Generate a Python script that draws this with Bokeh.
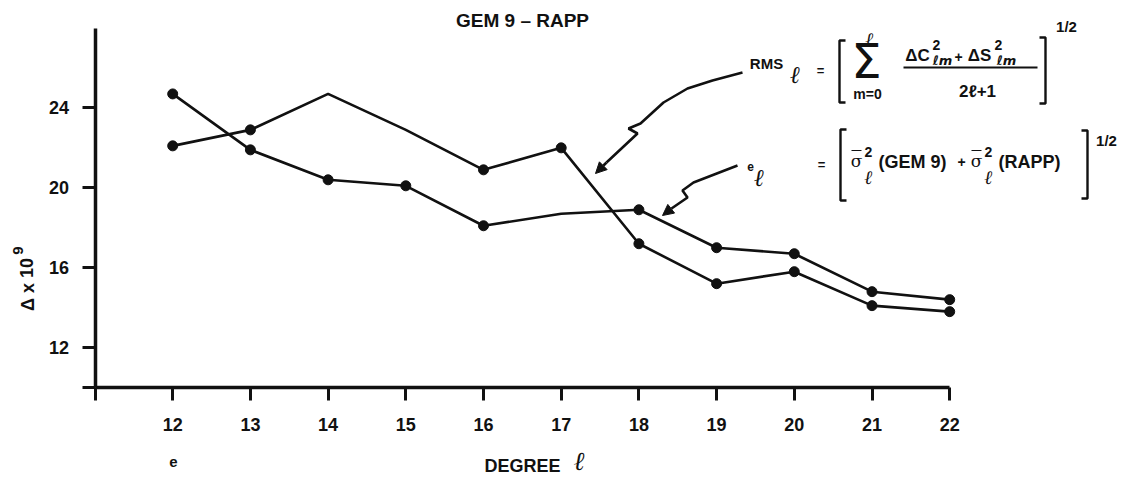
from bokeh.plotting import figure
from bokeh.models import Range1d, FixedTicker, Label, Arrow, NormalHead
from bokeh.embed import file_html
from bokeh.resources import INLINE

# ---------------- data ----------------
degree = [12, 13, 14, 15, 16, 17, 18, 19, 20, 21, 22]
rms = [22.1, 22.9, 24.7, 22.9, 20.9, 22.0, 17.2, 15.2, 15.8, 14.1, 13.8]
e_l = [24.7, 21.9, 20.4, 20.1, 18.1, 18.7, 18.9, 17.0, 16.7, 14.8, 14.4]
rms_dots = [1, 1, 0, 0, 1, 1, 1, 1, 1, 1, 1]
e_dots = [1, 1, 1, 1, 1, 0, 1, 1, 1, 1, 1]
x_ticks = [11, 12, 13, 14, 15, 16, 17, 18, 19, 20, 21, 22]
x_tick_labels = ["", "12", "13", "14", "15", "16", "17", "18", "19", "20", "21", "22"]
y_ticks = [10, 12, 16, 20, 24]
y_tick_labels = ["", "12", "16", "20", "24"]
title_text = "GEM 9 \u2013 RAPP"
x_label = "DEGREE"
y_label = "\u0394 x 10"

# ---------------- layout ----------------
W, H = 1130, 474
OFF = 0                      # page offset of the canvas
PX11, PPX = 94.5, 77.7       # page x of degree 11, px per degree
PY18, PPY = 227.25, 19.975   # page y of value 18, px per unit
X0 = 11 - (PX11 - OFF) / PPX
X1 = X0 + W / PPX
Y1 = 18 + (PY18 - OFF) / PPY
Y0 = Y1 - H / PPY

def dx(px):
    return X0 + (px - OFF) / PPX

def dy(py):
    return Y1 - (py - OFF) / PPY

FONT = "Liberation Sans"
INK = "#111111"

p = figure(width=W, height=H, x_range=Range1d(X0, X1), y_range=Range1d(Y0, Y1),
           output_backend="svg", toolbar_location=None, title=None, min_border=0)
p.outline_line_color = None
p.xgrid.visible = False
p.ygrid.visible = False
p.background_fill_color = "white"

for ax in (p.xaxis[0], p.yaxis[0]):
    ax.axis_line_width = 3.5
    ax.axis_line_color = INK
    ax.major_tick_line_width = 3
    ax.major_tick_line_color = INK
    ax.major_tick_in = 0
    ax.major_tick_out = 13
    ax.minor_tick_line_color = None
    ax.major_label_text_font = FONT
    ax.major_label_text_font_style = "bold"
    ax.major_label_text_font_size = "18px"
    ax.major_label_text_color = INK

p.xaxis.fixed_location = 10
p.xaxis.bounds = (11, 22)
p.xaxis.ticker = FixedTicker(ticks=x_ticks)
p.xaxis.major_label_overrides = dict(zip(x_ticks, x_tick_labels))
p.xaxis.major_label_standoff = 17

p.yaxis.fixed_location = 11
p.yaxis.bounds = (10, 28)
p.yaxis.ticker = FixedTicker(ticks=y_ticks)
p.yaxis.major_label_overrides = dict(zip(y_ticks, y_tick_labels))
p.yaxis.major_label_standoff = 13

# ---------------- series ----------------
for ys, dots in ((rms, rms_dots), (e_l, e_dots)):
    p.line(degree, ys, line_width=2.6, line_color=INK)
    p.scatter([d for d, k in zip(degree, dots) if k], [v for v, k in zip(ys, dots) if k],
              marker="circle", size=10, fill_color=INK, line_color=INK)

# ---------------- texts ----------------
def lab(px, py, text, size, style="bold", font=FONT, angle=0, align="center", base="middle"):
    p.add_layout(Label(x=dx(px), y=dy(py), text=text, text_font=font, text_font_style=style,
                       text_font_size=f"{size}px", text_color=INK, angle=angle,
                       text_align=align, text_baseline=base))

SCRIPT = "DejaVu Serif"
lab(522, 20, title_text, 19)
lab(522, 465, x_label, 18)
lab(579, 460, "\u2113", 26, style="bold italic", font=SCRIPT)
lab(27, 284, y_label, 18, angle=1.5708)
lab(17, 250, "9", 15, angle=1.5708)
lab(173, 461, "e", 15)

# formula 1
lab(766, 63, "RMS", 15)
lab(795, 74, "\u2113", 24, style="bold italic", font=SCRIPT)
lab(820, 70, "=", 13)
lab(869, 38, "\u2113", 19, style="bold italic", font=SCRIPT)
lab(866, 60, "\u03a3", 48, style="normal", font="DejaVu Sans")
lab(867, 93, "m=0", 14)
lab(917, 55, "\u0394C", 17)
lab(936, 44, "2", 14)
lab(942, 60, "\u2113m", 13, style="bold italic", font="DejaVu Sans")
lab(958, 56, "+", 14)
lab(979, 55, "\u0394S", 17)
lab(998, 44, "2", 14)
lab(1006, 60, "\u2113m", 13, style="bold italic", font="DejaVu Sans")
lab(977, 91, "2\u2113+1", 17)
lab(1066, 26, "1/2", 15)

# formula 2
lab(750, 166, "e", 12)
lab(759, 177, "\u2113", 24, style="bold italic", font=SCRIPT)
lab(821, 164, "=", 13)
lab(856, 160, "\u03c3", 17, style="normal", font=SCRIPT)
lab(868, 151, "2", 14)
lab(868, 176, "\u2113", 19, style="bold italic", font=SCRIPT)
lab(878, 161, "(GEM 9)", 18, align="left")
lab(961, 161, "+", 14)
lab(976, 160, "\u03c3", 17, style="normal", font=SCRIPT)
lab(988, 151, "2", 14)
lab(988, 176, "\u2113", 19, style="bold italic", font=SCRIPT)
lab(998, 161, "(RAPP)", 18, align="left")
lab(1106, 140, "1/2", 15)

# brackets, fraction bar, overbars
def path(pts, w=2.4):
    p.line([dx(a) for a, b in pts], [dy(b) for a, b in pts], line_width=w, line_color=INK)

path([(845, 40), (839, 40), (839, 102), (845, 102)])
path([(1039, 37), (1045, 37), (1045, 103), (1039, 103)])
path([(903, 67), (1037, 67)], 2)
path([(846, 129), (840, 129), (840, 200), (846, 200)])
path([(1081, 130), (1087, 130), (1087, 198), (1081, 198)])
path([(851, 150), (861, 150)], 1.2)
path([(971, 150), (981, 150)], 1.2)

# arrows
rms_arrow = [(742, 72), (712, 80), (687, 88), (663, 102), (640, 123), (628, 128), (637, 133), (606, 162)]
e_arrow = [(737, 165), (693, 182), (682, 190), (687, 197), (671, 208)]
path(rms_arrow, 2.6)
path(e_arrow, 2.6)
for pts, tip in ((rms_arrow, (595, 173)), (e_arrow, (662, 215))):
    a = pts[-1]
    p.add_layout(Arrow(end=NormalHead(size=11, fill_color=INK, line_color=INK, line_width=1),
                       x_start=dx(a[0]), y_start=dy(a[1]), x_end=dx(tip[0]), y_end=dy(tip[1]),
                       line_width=2.6, line_color=INK))

open("out.html", "w").write(file_html(p, INLINE))
